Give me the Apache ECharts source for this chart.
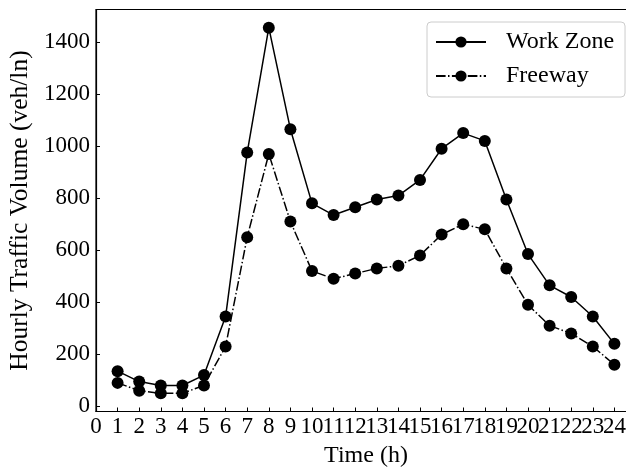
<!DOCTYPE html>
<html>
<head>
<meta charset="utf-8">
<script src="https://cdn.jsdelivr.net/npm/echarts@6/dist/echarts.min.js"></script>
<style>
  html, body { margin: 0; padding: 0; background: #fff; }
  #chart { width: 626px; height: 470px; }
</style>
</head>
<body>
<div id="chart"></div>
<script>
// Hour of day (h)
const hours = [1,2,3,4,5,6,7,8,9,10,11,12,13,14,15,16,17,18,19,20,21,22,23,24];
// Hourly traffic volume per lane (veh/ln)
const workZone = [135,95,80,80,120,345,975,1455,1065,780,735,765,795,810,870,990,1050,1020,795,585,465,420,345,240];
const freeway  = [90,60,50,50,80,230,650,970,710,520,490,510,530,540,580,660,700,680,530,390,310,280,230,160];
// Y-axis tick values
const yTicks = [0,200,400,600,800,1000,1200,1400];

const FONT = '"Liberation Serif", "Times New Roman", serif';

const pairs = arr => hours.map((h, i) => [h, arr[i]]);

const chart = echarts.init(document.getElementById('chart'), null, { renderer: 'canvas' });

chart.setOption({
  backgroundColor: '#ffffff',
  animation: false,
  grid: {
    left: 96, top: 9.5, width: 540, height: 402,
    outerBoundsMode: 'none',
    containLabel: false,
    show: true, borderColor: '#000', borderWidth: 1.2, backgroundColor: 'transparent'
  },
  legend: {
    orient: 'vertical',
    left: 427, top: 22,
    padding: [8, 11, 9, 8],
    itemGap: 10,
    itemWidth: 50, itemHeight: 14,
    backgroundColor: '#fff',
    borderColor: '#cccccc', borderWidth: 1, borderRadius: 4,
    textStyle: { fontFamily: FONT, fontSize: 24, color: '#000', padding: [0, 0, 0, 15] },
    data: ['Work Zone', 'Freeway']
  },
  xAxis: {
    type: 'value',
    min: 0, max: 25, interval: 1,
    name: 'Time (h)', nameLocation: 'middle', nameGap: 29,
    nameTextStyle: { fontFamily: FONT, fontSize: 24, color: '#000' },
    axisLine: { show: true, onZero: false, lineStyle: { color: '#000', width: 1.2 } },
    axisTick: { show: true, inside: true, length: 4, lineStyle: { color: '#000', width: 1 } },
    axisLabel: {
      fontFamily: FONT, fontSize: 23, color: '#000', margin: 4, interval: 0,
      hideOverlap: false,
      formatter: v => (v > 24 ? '' : String(v))
    },
    splitLine: { show: false }
  },
  yAxis: {
    type: 'value',
    min: -20, max: 1525,
    name: 'Hourly Traffic Volume (veh/ln)', nameLocation: 'middle', nameGap: 58,
    nameTextStyle: { fontFamily: FONT, fontSize: 25.5, color: '#000' },
    axisLine: { show: true, onZero: false, lineStyle: { color: '#000', width: 1.2 } },
    axisTick: { show: true, inside: true, length: 4, customValues: yTicks, lineStyle: { color: '#000', width: 1 } },
    axisLabel: {
      fontFamily: FONT, fontSize: 23, color: '#000', margin: 6,
      customValues: yTicks,
      formatter: v => String(v)
    },
    splitLine: { show: false }
  },
  series: [
    {
      name: 'Work Zone', type: 'line',
      data: pairs(workZone),
      symbol: 'circle', symbolSize: 12,
      itemStyle: { color: '#000' },
      lineStyle: { color: '#000', width: 1.5, type: 'solid' }
    },
    {
      name: 'Freeway', type: 'line',
      data: pairs(freeway),
      symbol: 'circle', symbolSize: 12,
      itemStyle: { color: '#000' },
      lineStyle: { color: '#000', width: 1.5, type: [9.6, 2.4, 1.5, 2.4] }
    }
  ]
});
</script>
</body>
</html>
